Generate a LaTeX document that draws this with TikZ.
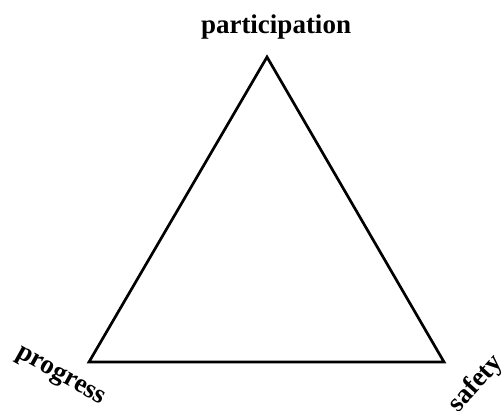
\documentclass[tikz,border=0pt]{standalone}
\usepackage{fontspec}
\setmainfont{Liberation Serif}
\begin{document}
\begin{tikzpicture}[
  x=0.5pt, y=-0.5pt,
  side/.style={line width=1.35pt, line join=miter},
  corner/.style={font=\bfseries\fontsize{13.5}{15}\selectfont, inner sep=0pt}
]
\useasboundingbox (0,0) rectangle (503,411);
\coordinate (apex) at (267,57);
\coordinate (left) at (89,362);
\coordinate (right) at (444,362);
\draw[side] (apex) -- (left) -- (right) -- cycle;
\node[corner] (part) at (276,27) {participation};
\node[corner, rotate=-29] (prog) at (60,377) {progress};
\node[corner, rotate=48] (safe) at (476,384) {safety};
\end{tikzpicture}
\end{document}
